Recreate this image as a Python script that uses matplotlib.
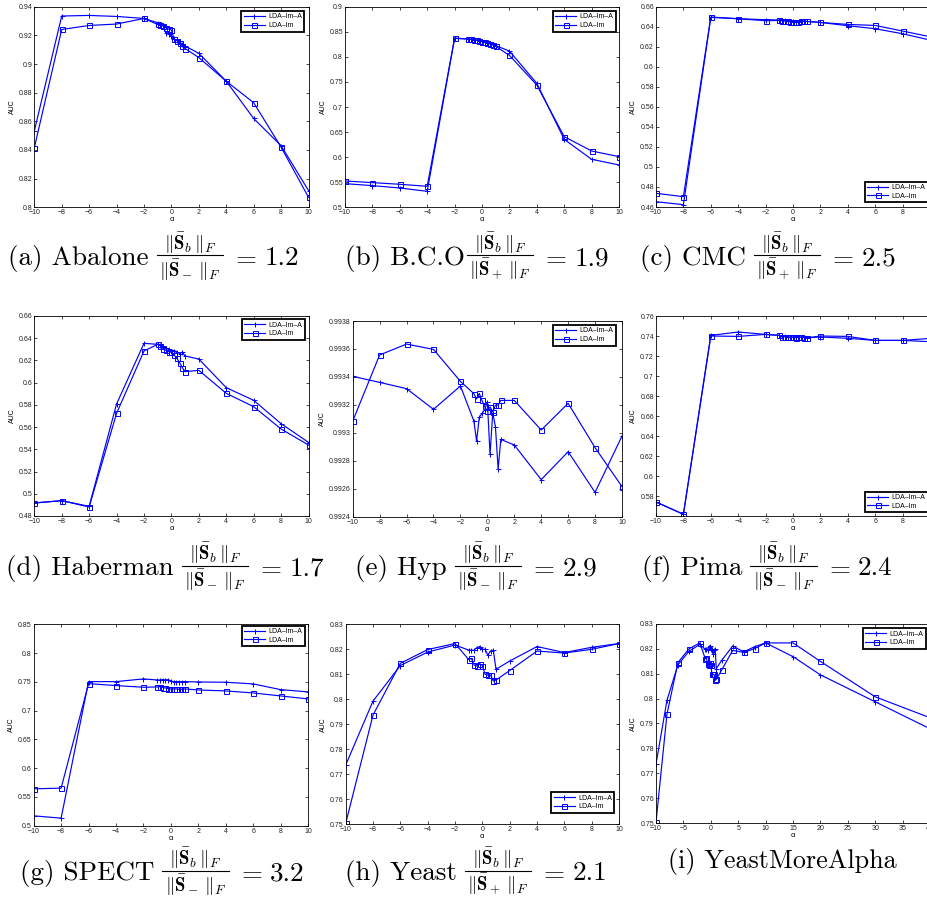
import matplotlib
matplotlib.use('Agg')
import matplotlib.pyplot as plt
from matplotlib.ticker import FixedLocator, FuncFormatter
from matplotlib.lines import Line2D

plt.rcParams['font.family'] = ['Liberation Sans', 'DejaVu Sans']
plt.rcParams['mathtext.fontset'] = 'cm'

W, H, DPI = 927, 905, 100

# ---------------- data ----------------
alpha = [-10, -8, -6, -4, -2, -1, -0.8, -0.6, -0.4, -0.2, 0, 0.2, 0.4, 0.6, 0.8, 1, 2, 4, 6, 8, 10]
alpha_extra = [15, 20, 30, 40]

abalone_im_a = [0.8532, 0.9335, 0.9339, 0.9332, 0.9318, 0.9288, 0.9275, 0.9270, 0.9215, 0.9210, 0.9195,
                0.9175, 0.9165, 0.9150, 0.9140, 0.9125, 0.9075, 0.8880, 0.8620, 0.8430, 0.8117]
abalone_im = [0.8415, 0.9241, 0.9269, 0.9279, 0.9318, 0.9276, 0.9272, 0.9265, 0.9253, 0.9244, 0.9237,
              0.9174, 0.9164, 0.9150, 0.9125, 0.9108, 0.9045, 0.8880, 0.8730, 0.8420, 0.8070]

bco_im_a = [0.5472, 0.5432, 0.5385, 0.5319, 0.8369, 0.8355, 0.8350, 0.8345, 0.8335, 0.8325, 0.8310,
            0.8300, 0.8280, 0.8270, 0.8250, 0.8225, 0.8116, 0.7472, 0.6355, 0.5957, 0.5844]
bco_im = [0.5525, 0.5492, 0.5459, 0.5419, 0.8375, 0.8355, 0.8349, 0.8340, 0.8330, 0.8316, 0.8300,
          0.8290, 0.8270, 0.8256, 0.8236, 0.8210, 0.8030, 0.7438, 0.6409, 0.6123, 0.6010]

cmc_im_a = [0.4653, 0.4623, 0.6493, 0.6480, 0.6470, 0.6467, 0.6465, 0.6463, 0.6460, 0.6457, 0.6453,
            0.6450, 0.6450, 0.6453, 0.6455, 0.6453, 0.6443, 0.6410, 0.6380, 0.6330, 0.6267]
cmc_im = [0.4737, 0.4703, 0.6497, 0.6480, 0.6460, 0.6463, 0.6460, 0.6457, 0.6453, 0.6450, 0.6443,
          0.6443, 0.6447, 0.6453, 0.6457, 0.6453, 0.6443, 0.6423, 0.6413, 0.6357, 0.6300]

haber_im_a = [0.4917, 0.4938, 0.4887, 0.5808, 0.6354, 0.6345, 0.6339, 0.6327, 0.6315, 0.6300, 0.6288,
              0.6288, 0.6279, 0.6260, 0.6276, 0.6240, 0.6213, 0.5955, 0.5841, 0.5631, 0.5463]
haber_im = [0.4917, 0.4938, 0.4881, 0.5724, 0.6285, 0.6345, 0.6333, 0.6306, 0.6291, 0.6279, 0.6273,
            0.6249, 0.6219, 0.6180, 0.6135, 0.6099, 0.6111, 0.5904, 0.5784, 0.5583, 0.5439]

hyp_im_a = [0.993404, 0.993361, 0.993316, 0.993168, 0.993335, 0.993084, 0.992941, 0.993110, 0.993139,
            0.993163, 0.993223, 0.992845, 0.993143, 0.993044, 0.992741, 0.992953, 0.992913, 0.992665,
            0.992865, 0.992574, 0.992977]
hyp_im = [0.993084, 0.993557, 0.993635, 0.993597, 0.993368, 0.993280, 0.993242, 0.993282, 0.993232,
          0.993189, 0.993156, 0.993185, 0.993151, 0.993199, 0.993199, 0.993232, 0.993232, 0.993020,
          0.993211, 0.992894, 0.992615]

pima_im_a = [0.5740, 0.5617, 0.7406, 0.7440, 0.7416, 0.7406, 0.7400, 0.7396, 0.7393, 0.7390, 0.7390,
             0.7387, 0.7390, 0.7390, 0.7387, 0.7383, 0.7390, 0.7377, 0.7356, 0.7356, 0.7343]
pima_im = [0.5740, 0.5617, 0.7400, 0.7396, 0.7416, 0.7406, 0.7390, 0.7393, 0.7390, 0.7387, 0.7387,
           0.7383, 0.7387, 0.7387, 0.7383, 0.7380, 0.7400, 0.7396, 0.7356, 0.7356, 0.7376]

spect_im_a = [0.5168, 0.5128, 0.7503, 0.7503, 0.7550, 0.7532, 0.7532, 0.7538, 0.7532, 0.7538, 0.7515,
              0.7503, 0.7503, 0.7503, 0.7503, 0.7503, 0.7497, 0.7492, 0.7463, 0.7364, 0.7324]
spect_im = [0.5638, 0.5650, 0.7468, 0.7434, 0.7405, 0.7410, 0.7416, 0.7399, 0.7393, 0.7382, 0.7376,
            0.7376, 0.7376, 0.7370, 0.7370, 0.7376, 0.7358, 0.7341, 0.7306, 0.7254, 0.7202]

yeast_im_a = [0.7737, 0.7993, 0.8135, 0.8189, 0.8217, 0.8197, 0.8197, 0.8196, 0.8207, 0.8211, 0.8200,
              0.8200, 0.8177, 0.8193, 0.8197, 0.8120, 0.8153, 0.8211, 0.8187, 0.8208, 0.8223]
yeast_im = [0.7504, 0.7937, 0.8144, 0.8199, 0.8223, 0.8159, 0.8164, 0.8137, 0.8133, 0.8143, 0.8135,
            0.8100, 0.8097, 0.8097, 0.8073, 0.8077, 0.8115, 0.8193, 0.8185, 0.8200, 0.8223]
yeast_extra_im_a = [0.8168, 0.8095, 0.7987, 0.7879]
yeast_extra_im = [0.8223, 0.8149, 0.8007, 0.7923]

legend_labels = ['LDA\u2013Im\u2013A', 'LDA\u2013Im']

# caption: prefix, denominator sign, ratio value
cap_prefix = ['(a) Abalone', '(b) B.C.O', '(c) CMC', '(d) Haberman', '(e) Hyp', '(f) Pima',
              '(g) SPECT', '(h) Yeast', '(i) YeastMoreAlpha']
cap_sign = ['-', '+', '+', '-', '-', '-', '-', '+', None]
cap_value = ['1.2', '1.9', '2.5', '1.7', '2.9', '2.4', '3.2', '2.1', None]

# ---------------- layout (pixels) ----------------
boxes = [
    (34.3, 6.7, 308.5, 207.3), (345, 6.7, 619, 207.3), (656, 6.7, 930, 207.0),
    (34.3, 316, 308.5, 516), (352.7, 321, 622, 516.7), (656, 316, 930, 516),
    (33.7, 624.3, 308, 825.5), (345.7, 624.3, 619, 824.3), (656, 623.7, 930, 823.3),
]
legends = [
    ('upper right', 304.3, 11), ('upper right', 615.7, 11), ('lower left', 864.7, 202.3),
    ('upper right', 305, 319.3), ('upper right', 616, 325), ('lower left', 864.7, 512.3),
    ('upper right', 305, 625.5), ('lower right', 614.3, 812.7), ('upper left', 862.7, 628.3),
]
# left x, baseline y, gap after prefix, font size
cap_pos = [(8, 265, 8, 19.5), (345, 265, 2, 19.5), (640, 265, 8, 19.5),
           (6, 575, 8, 19.5), (355, 575, 8, 19.5), (642, 575, 8, 19.5),
           (20, 880, 8, 19.5), (345, 880, 8, 19.5), (668, 868, 8, 18.8)]


def frange(a, b, s):
    n = int(round((b - a) / s))
    return [round(a + i * s, 6) for i in range(n + 1)]


ylims = [(0.80, 0.94, 0.02), (0.5, 0.9, 0.05), (0.46, 0.66, 0.02),
         (0.48, 0.66, 0.02), (0.9924, 0.9938, 0.0002), (0.56, 0.76, 0.02),
         (0.5, 0.85, 0.05), (0.75, 0.83, 0.01), (0.75, 0.83, 0.01)]

series = [
    (alpha, abalone_im_a, abalone_im), (alpha, bco_im_a, bco_im), (alpha, cmc_im_a, cmc_im),
    (alpha, haber_im_a, haber_im), (alpha, hyp_im_a, hyp_im), (alpha, pima_im_a, pima_im),
    (alpha, spect_im_a, spect_im), (alpha, yeast_im_a, yeast_im),
    (alpha + alpha_extra, yeast_im_a + yeast_extra_im_a, yeast_im + yeast_extra_im),
]


def fmt(v, pos):
    return ('%g' % round(v, 6)).replace('-', '\u2212')


def fx(x):
    return x / W


def fy(y):
    return 1 - y / H


fig = plt.figure(figsize=(W / DPI, H / DPI), dpi=DPI)
fig.patch.set_facecolor('white')
renderer = fig.canvas.get_renderer()

for i in range(9):
    l, t, r, b = boxes[i]
    ax = fig.add_axes([fx(l), fy(b), (r - l) / W, (b - t) / H])
    xs, ya, yb = series[i]
    line_kw = dict(color='#0000ff', lw=0.85, markersize=3.6, mew=0.7, clip_on=True)
    ax.plot(xs, ya, marker='+', label=legend_labels[0], **line_kw)
    ax.plot(xs, yb, marker='s', mfc='none', label=legend_labels[1], **line_kw)

    if i == 8:
        ax.set_xlim(-10, 40)
        ax.xaxis.set_major_locator(FixedLocator(frange(-10, 40, 5)))
    else:
        ax.set_xlim(-10, 10)
        ax.xaxis.set_major_locator(FixedLocator(frange(-10, 10, 2)))
    y0, y1, ys = ylims[i]
    ax.set_ylim(y0, y1)
    yt = frange(y0, y1, ys)
    if i == 5:
        yt = yt[1:]
    ax.yaxis.set_major_locator(FixedLocator(yt))
    ax.xaxis.set_major_formatter(FuncFormatter(fmt))
    ax.yaxis.set_major_formatter(FuncFormatter(fmt))
    ax.tick_params(direction='in', length=2.5, width=0.5, top=True, right=True,
                   labelsize=5, pad=1.5, colors='black', labelcolor='#222222')
    for sp in ax.spines.values():
        sp.set_linewidth(0.6)
    ax.set_xlabel('\u03b1', fontsize=5.5, labelpad=0)
    ax.set_ylabel('AUC', fontsize=5, labelpad=2)

    loc, lx, ly = legends[i]
    leg = ax.legend(loc=loc, bbox_to_anchor=(fx(lx), fy(ly)), bbox_transform=fig.transFigure,
                    borderaxespad=0, fontsize=5, frameon=True, fancybox=False, edgecolor='black',
                    handlelength=3.0, handletextpad=0.5, borderpad=0.35, labelspacing=0.25,
                    framealpha=1)
    leg.get_frame().set_linewidth(1.3)

    # ---- caption ----
    cx, base, gap, fs = cap_pos[i]
    tp = fig.text(fx(cx), fy(base), cap_prefix[i], fontfamily='cmr10', fontsize=fs,
                  ha='left', va='baseline')
    x = cx + tp.get_window_extent(renderer).width + gap
    if cap_sign[i] is not None:
        bar_y = base - 9.5
        num = fig.text(0, fy(bar_y - 0.8), r'$\|\bar{\mathbf{S}}_b\,\|_F$', fontsize=13.5,
                       ha='center', va='bottom')
        den = fig.text(0, fy(bar_y + 1.0), r'$\|\bar{\mathbf{S}}_%s\,\|_F$' % cap_sign[i],
                       fontsize=13.5, ha='center', va='top')
        wn = num.get_window_extent(renderer).width
        wd = den.get_window_extent(renderer).width
        fw = max(wn, wd) + 5
        num.set_x(fx(x + fw / 2))
        den.set_x(fx(x + fw / 2))
        fig.add_artist(Line2D([fx(x), fx(x + fw)], [fy(bar_y), fy(bar_y)],
                              transform=fig.transFigure, color='black', lw=0.8))
        x = x + fw + 8
        te = fig.text(fx(x), fy(base), r'$=$', fontsize=fs, ha='left', va='baseline')
        x = x + te.get_window_extent(renderer).width + 7
        fig.text(fx(x), fy(base), cap_value[i], fontfamily='cmr10', fontsize=fs,
                 ha='left', va='baseline')

fig.savefig('out.png', dpi=DPI)
